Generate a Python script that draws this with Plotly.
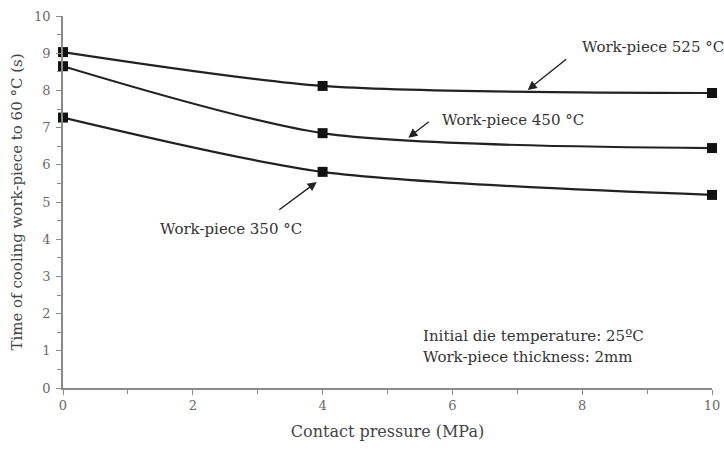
import plotly.graph_objects as go

# Contact pressure (MPa) and cooling time to 60 °C (s) for each work-piece temperature
pressure = [0, 4, 10]
time_525 = [9.03, 8.12, 7.93]
time_450 = [8.65, 6.85, 6.45]
time_350 = [7.27, 5.81, 5.19]

series_labels = ["Work-piece 525 °C", "Work-piece 450 °C", "Work-piece 350 °C"]
note_lines = ["Initial die temperature: 25ºC", "Work-piece thickness: 2mm"]

FONT = "DejaVu Serif"
INK = "#222222"
AXIS = "#8a8a8a"

W, H = 724, 455
L, R, T, B = 63, 12, 16, 67
pw, ph = W - L - R, H - T - B


def px_to_paper(px, py):
    return (px - L) / pw, 1 - (py - T) / ph


fig = go.Figure()
for name, ys in zip(series_labels, [time_525, time_450, time_350]):
    fig.add_trace(go.Scatter(
        x=pressure, y=ys, name=name, mode="lines+markers",
        line=dict(color=INK, width=2.2, shape="spline", smoothing=0.75),
        marker=dict(symbol="square", size=10, color="#111111"),
        cliponaxis=False, showlegend=False,
    ))

# Callout arrows: head on the curve, tail offset in pixels
arrows = [
    (7.16, 8.01, 40, -32),
    (5.32, 6.73, 22, -17),
    (3.91, 5.54, -39, 29),
]
for hx, hy, ax, ay in arrows:
    fig.add_annotation(x=hx, y=hy, ax=ax, ay=ay, text="", showarrow=True,
                       arrowhead=2, arrowsize=1.3, arrowwidth=1.4, arrowcolor=INK)

# Series labels
label_pos = [(580, 47), (440, 120), (158, 229)]
for text, (px, py) in zip(series_labels, label_pos):
    xp, yp = px_to_paper(px, py)
    fig.add_annotation(x=xp, y=yp, xref="paper", yref="paper",
                       text=text, showarrow=False, xanchor="left", yanchor="middle",
                       font=dict(family=FONT, size=15, color="#333333"))

# Test-condition note, one annotation per line
for text, py in zip(note_lines, [336, 357]):
    xp, yp = px_to_paper(421, py)
    fig.add_annotation(x=xp, y=yp, xref="paper", yref="paper",
                       text=text, showarrow=False, xanchor="left", yanchor="middle",
                       font=dict(family=FONT, size=15, color="#333333"))

axis_common = dict(
    showline=True, linecolor=AXIS, linewidth=1.5, showgrid=False, zeroline=False,
    ticks="outside", ticklen=5, tickcolor=AXIS, tickwidth=1.2, automargin=False,
    tickfont=dict(family=FONT, size=13, color="#6a6a6a"),
)
fig.update_xaxes(range=[0, 10], dtick=2, tick0=0,
                 minor=dict(dtick=1, ticks="outside", ticklen=4, tickcolor=AXIS),
                 title=dict(text="Contact pressure (MPa)", standoff=13,
                            font=dict(family=FONT, size=16, color="#444444")),
                 **axis_common)
fig.update_yaxes(range=[0, 10], dtick=1, tick0=0, ticklabelstandoff=3,
                 minor=dict(dtick=0.5, ticks="outside", ticklen=4, tickcolor=AXIS),
                 title=dict(text="Time of cooling work-piece to 60 °C (s)", standoff=8,
                            font=dict(family=FONT, size=15, color="#444444")),
                 **axis_common)

fig.update_layout(width=W, height=H, margin=dict(l=L, r=R, t=T, b=B),
                  paper_bgcolor="white", plot_bgcolor="white",
                  font=dict(family=FONT))
fig.write_html("out.html")
